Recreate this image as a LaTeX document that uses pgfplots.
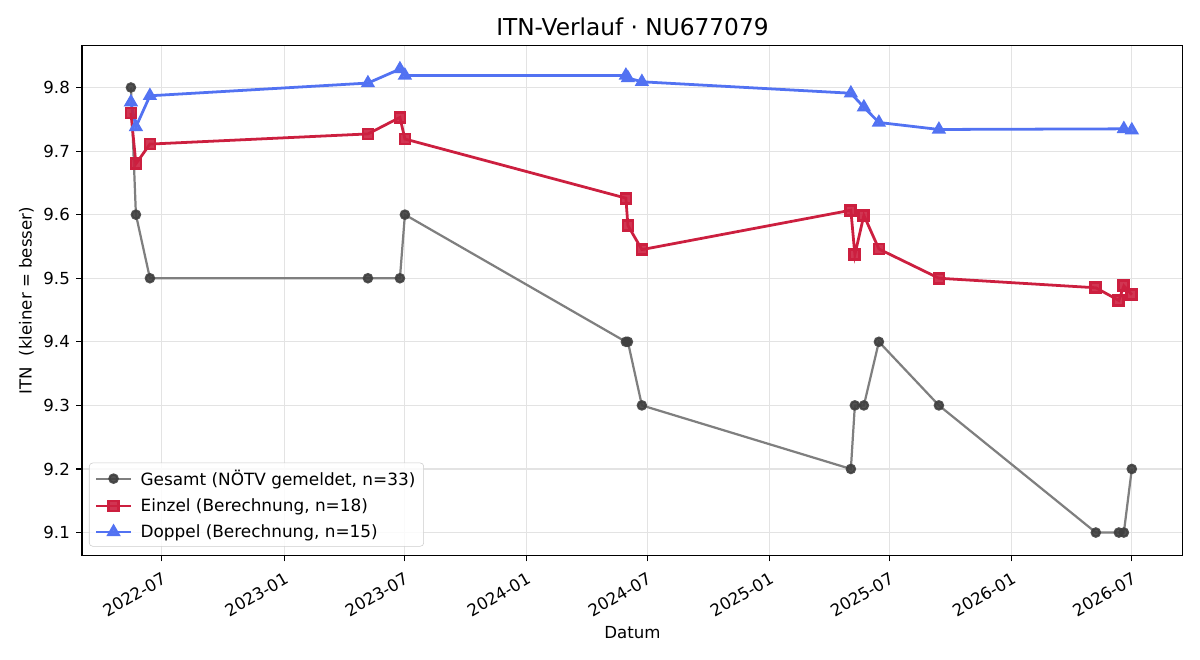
\documentclass[border=0pt]{standalone}
\usepackage{fontspec}
\setmainfont{DejaVu Sans}
\usepackage{pgfplots}
\pgfplotsset{compat=1.18}
\usepackage{pgfplotstable}

\definecolor{gesamtline}{HTML}{7F7F7F}
\definecolor{gesamtmark}{HTML}{404040}
\definecolor{einzel}{HTML}{CC1F3F}
\definecolor{doppel}{HTML}{5272F2}
\definecolor{gridc}{HTML}{E3E3E3}

% x: days since 2022-07-01
\pgfplotstableread{
x y
-46.7 9.8
-39.2 9.6
-18.1 9.5
310.3 9.5
358.5 9.5
366.0 9.6
698.9 9.4
701.9 9.4
723.0 9.3
1037.8 9.2
1043.8 9.3
1057.4 9.3
1080.0 9.4
1170.4 9.3
1406.8 9.1
1441.5 9.1
1449.0 9.1
1461.0 9.2
}\gesamt

\pgfplotstableread{
x y
-46.7 9.760
-39.2 9.680
-18.1 9.711
310.3 9.727
358.5 9.753
366.0 9.719
698.9 9.626
701.9 9.583
723.0 9.545
1037.8 9.607
1043.8 9.537
1057.4 9.599
1080.0 9.546
1170.4 9.500
1406.8 9.485
1441.5 9.465
1449.0 9.488
1461.0 9.474
}\einzel

\pgfplotstableread{
x y
-46.7 9.777
-39.2 9.738
-18.1 9.787
310.3 9.807
358.5 9.829
366.0 9.819
698.9 9.819
701.9 9.815
723.0 9.809
1037.8 9.791
1057.4 9.769
1080.0 9.745
1170.4 9.734
1449.0 9.735
1461.0 9.733
}\doppel

\begin{document}
\begin{tikzpicture}
\path (0,0) rectangle (864bp,475.2bp);
\begin{axis}[
  at={(59bp,75.2bp)}, anchor=south west,
  width=792.7bp, height=367.2bp, scale only axis,
  xmin=-120.5, xmax=1538,
  ymin=9.0638, ymax=9.866,
  xtick={0,184,365,549,731,915,1096,1280,1461},
  xticklabels={2022-07,2023-01,2023-07,2024-01,2024-07,2025-01,2025-07,2026-01,2026-07},
  ytick={9.1,9.2,9.3,9.4,9.5,9.6,9.7,9.8},
  yticklabel style={xshift=-1bp, /pgf/number format/.cd,fixed,fixed zerofill,precision=1},
  /pgf/number format/assume math mode=true,
  xtick pos=bottom, ytick pos=left,
  tick label style={font=\fontsize{12}{14}\selectfont, text=black},
  xticklabel style={rotate=30, anchor=north east, inner sep=1bp, xshift=-3bp, yshift=-5bp},
  tick align=outside,
  major tick length=4.2bp,
  tick style={black, line width=0.8bp},
  axis line style={black, line width=0.8bp},
  grid=major,
  grid style={gridc, line width=0.8bp},
  title={ITN-Verlauf · NU677079},
  title style={font=\fontsize{16.8}{19}\selectfont, at={(0.5,1)}, anchor=south, yshift=-2.3bp},
  xlabel={Datum},
  ylabel={ITN\ \ (kleiner = besser)},
  label style={font=\fontsize{12}{14}\selectfont},
  xlabel style={yshift=-2bp},
  legend style={
    at={(0.0064,0.0176)}, anchor=south west,
    draw=black!20, rounded corners=2.5bp, fill=white, fill opacity=0.85, text opacity=1,
    font=\fontsize{12.2}{14}\selectfont,
    row sep=4bp, inner xsep=4bp, inner ysep=3bp,
    cells={anchor=west},
    /tikz/every odd column/.append style={column sep=4bp},
  },
  legend image code/.code={
    \draw[mark repeat=2,mark phase=2,#1] plot coordinates {(0bp,0bp)(12.5bp,0bp)(25bp,0bp)};
  },
]
\addplot[gesamtline, line width=1.6bp, mark=*, mark size=3bp,
  mark options={fill=gesamtmark, draw=gesamtmark, fill opacity=0.9, draw opacity=0.9}]
  table[x=x,y=y] {\gesamt};
\addlegendentry{Gesamt (NÖTV gemeldet, n=33)}
\addplot[einzel, line width=2bp, mark=square*, mark size=3.6bp,
  mark options={fill=einzel, draw=einzel, fill opacity=0.9}]
  table[x=x,y=y] {\einzel};
\addlegendentry{Einzel (Berechnung, n=18)}
\addplot[doppel, line width=2bp, mark=triangle*, mark size=4bp,
  mark options={fill=doppel, draw=doppel, fill opacity=0.9}]
  table[x=x,y=y] {\doppel};
\addlegendentry{Doppel (Berechnung, n=15)}
\end{axis}
\end{tikzpicture}
\end{document}
